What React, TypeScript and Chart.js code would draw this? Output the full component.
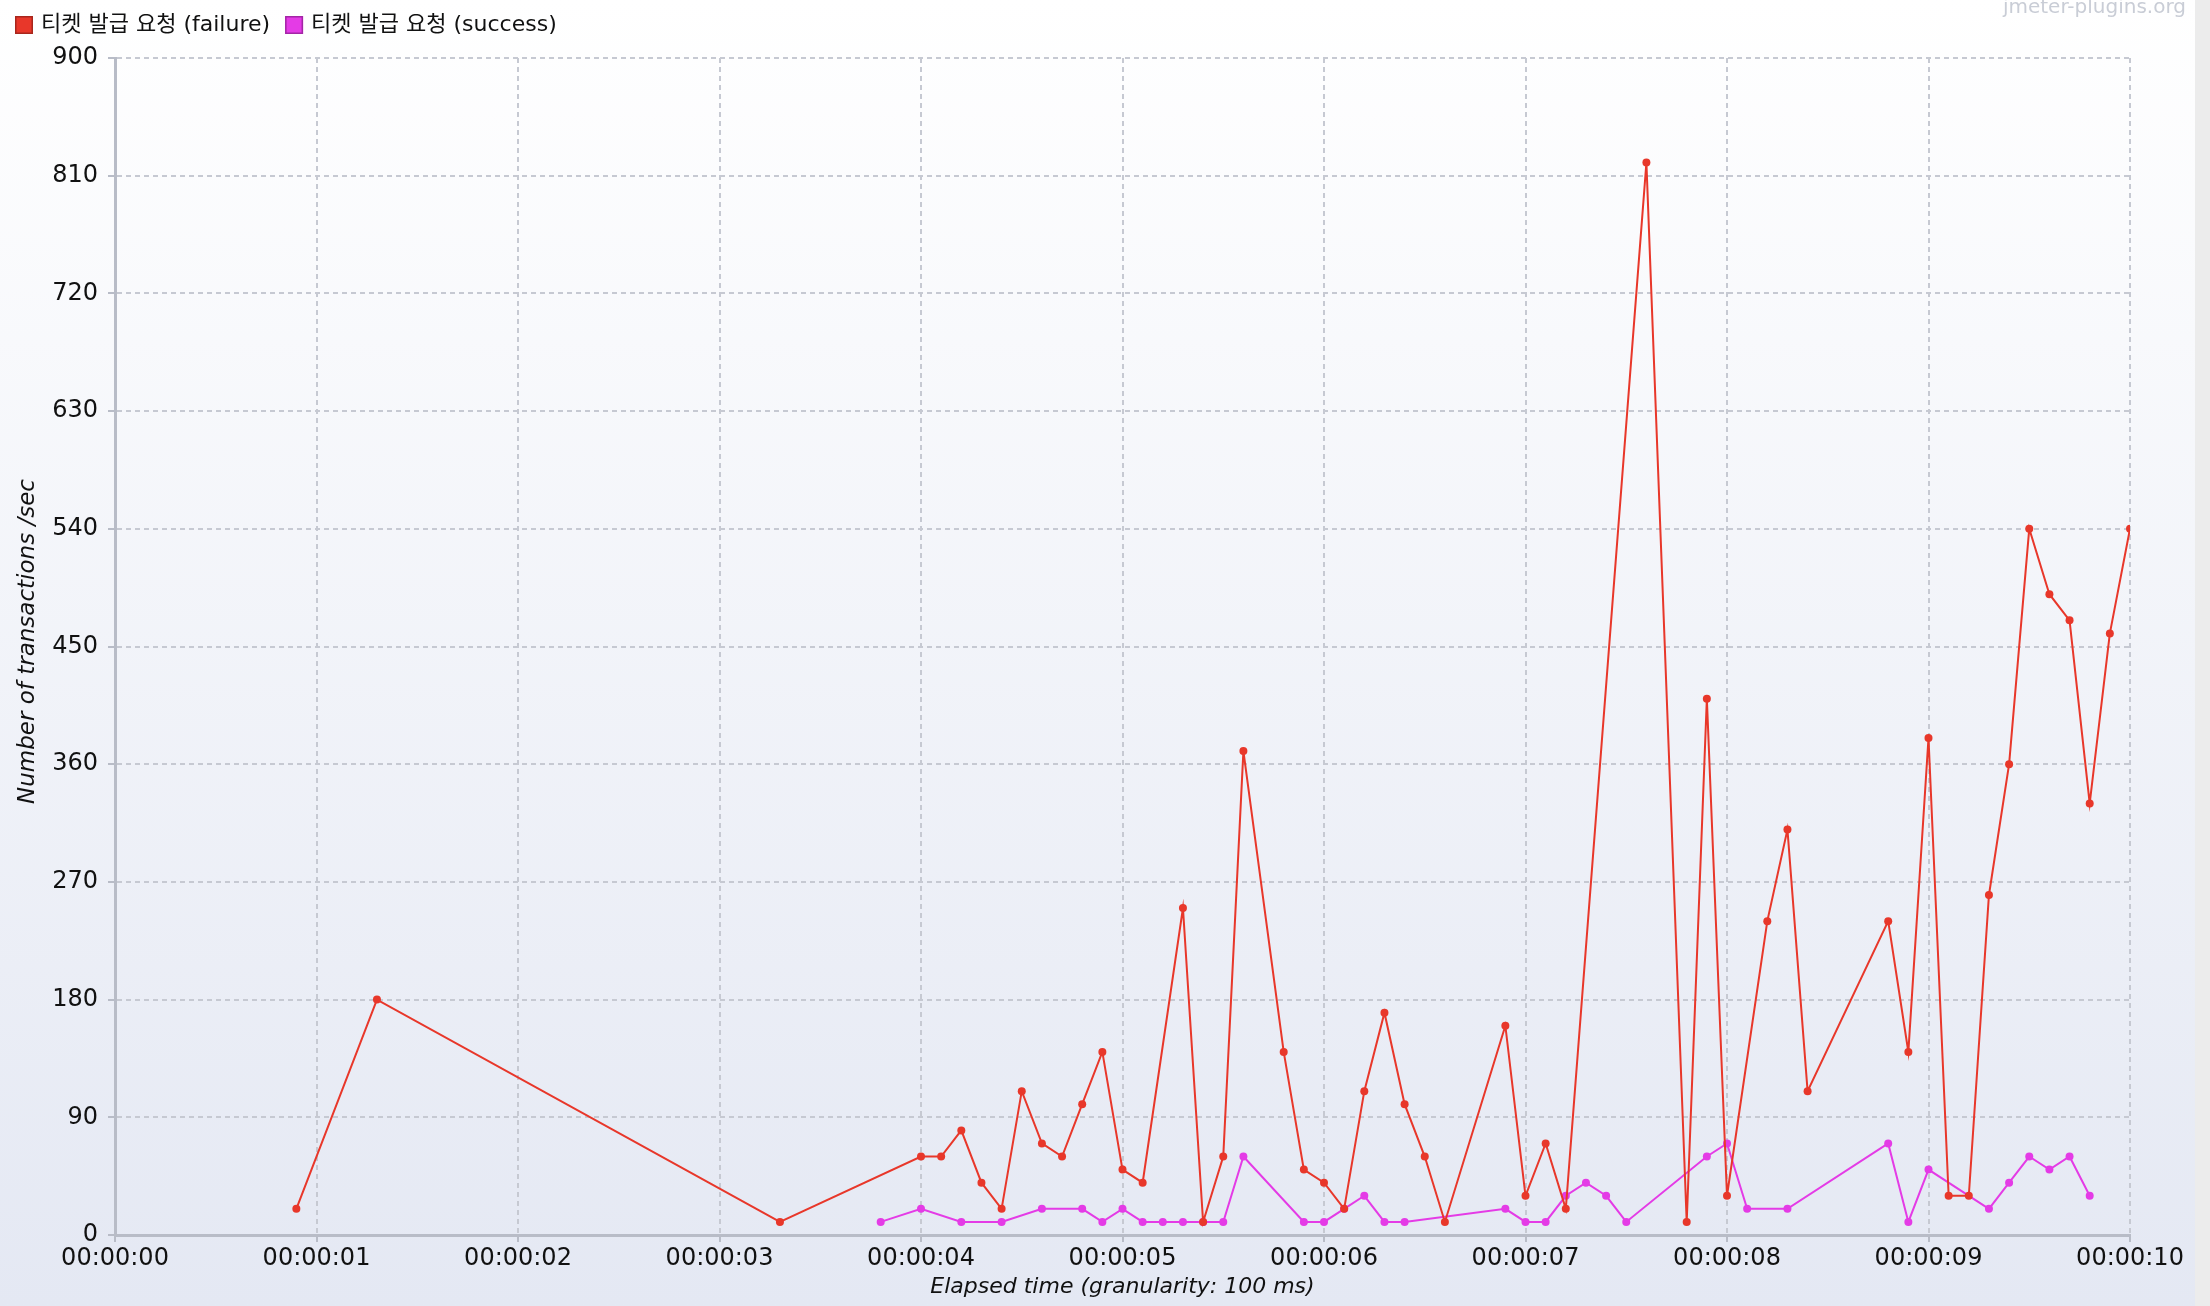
import React, { useEffect, useRef } from "react";
import { Chart, registerables } from "chart.js";

Chart.register(...registerables);

// ---- data (time in seconds, value in transactions/sec) ----
const failureTimes = [
  0.9, 1.3, 3.3, 4.0, 4.1, 4.2, 4.3, 4.4, 4.5, 4.6, 4.7, 4.8, 4.9, 5.0, 5.1,
  5.3, 5.4, 5.5, 5.6, 5.8, 5.9, 6.0, 6.1, 6.2, 6.3, 6.4, 6.5, 6.6, 6.9, 7.0,
  7.1, 7.2, 7.6, 7.8, 7.9, 8.0, 8.2, 8.3, 8.4, 8.8, 8.9, 9.0, 9.1, 9.2, 9.3,
  9.4, 9.5, 9.6, 9.7, 9.8, 9.9, 10.0,
];
const failureValues = [
  20, 180, 10, 60, 60, 80, 40, 20, 110, 70, 60, 100, 140, 50, 40,
  250, 10, 60, 370, 140, 50, 40, 20, 110, 170, 100, 60, 10, 160, 30,
  70, 20, 820, 10, 410, 30, 240, 310, 110, 240, 140, 380, 30, 30, 260,
  360, 540, 490, 470, 330, 460, 540,
];
const successTimes = [
  3.8, 4.0, 4.2, 4.4, 4.6, 4.8, 4.9, 5.0, 5.1, 5.2, 5.3, 5.4, 5.5, 5.6,
  5.9, 6.0, 6.1, 6.2, 6.3, 6.4, 6.9, 7.0, 7.1, 7.2, 7.3, 7.4, 7.5,
  7.9, 8.0, 8.1, 8.3, 8.8, 8.9, 9.0, 9.3, 9.4, 9.5, 9.6, 9.7, 9.8,
];
const successValues = [
  10, 20, 10, 10, 20, 20, 10, 20, 10, 10, 10, 10, 10, 60,
  10, 10, 20, 30, 10, 10, 20, 10, 10, 30, 40, 30, 10,
  60, 70, 20, 20, 70, 10, 50, 20, 40, 60, 50, 60, 30,
];

const seriesLabels = ["티켓 발급 요청 (failure)", "티켓 발급 요청 (success)"];
const seriesColors = ["#e8372a", "#e43be6"];
const seriesBorders = ["#a8261c", "#a325a6"];

const xMin = 0;
const xMax = 10;
const xStep = 1;
const yMin = 0;
const yMax = 900;
const yStep = 90;

const xTitle = "Elapsed time (granularity: 100 ms)";
const yTitle = "Number of transactions /sec";
const watermark = "jmeter-plugins.org";

const FONT = "'DejaVu Sans', 'Noto Sans CJK KR', sans-serif";

function fmtTime(s: number): string {
  const sec = Math.round(s);
  const hh = Math.floor(sec / 3600);
  const mm = Math.floor(sec / 60) % 60;
  const ss = sec % 60;
  return [hh, mm, ss].map((v) => String(v).padStart(2, "0")).join(":");
}

const decorPlugin = {
  id: "decor",
  beforeDraw(chart: any) {
    const { ctx, width, height } = chart;
    ctx.save();
    const g = ctx.createLinearGradient(0, 0, 0, height);
    g.addColorStop(0, "#ffffff");
    g.addColorStop(1, "#e4e8f3");
    ctx.fillStyle = g;
    ctx.fillRect(0, 0, width, height);
    ctx.fillStyle = "#ececec";
    ctx.fillRect(2195, 0, width - 2195, height);
    ctx.restore();
  },
  afterDraw(chart: any) {
    const { ctx, chartArea } = chart;
    ctx.save();
    // legend
    ctx.font = `22px ${FONT}`;
    ctx.textBaseline = "middle";
    ctx.textAlign = "left";
    let x = 15;
    seriesLabels.forEach((label, i) => {
      ctx.fillStyle = seriesColors[i];
      ctx.fillRect(x, 16, 18, 18);
      ctx.strokeStyle = seriesBorders[i];
      ctx.lineWidth = 1.5;
      ctx.strokeRect(x + 0.75, 16.75, 16.5, 16.5);
      ctx.fillStyle = "#111111";
      ctx.fillText(label, x + 26, 25);
      x += 26 + ctx.measureText(label).width + 15;
    });
    // watermark
    ctx.font = `20px ${FONT}`;
    ctx.fillStyle = "#c9cdd6";
    ctx.textAlign = "right";
    ctx.fillText(watermark, 2186, 8);
    // axis titles
    ctx.fillStyle = "#111111";
    ctx.font = `italic 22px ${FONT}`;
    ctx.textAlign = "center";
    ctx.textBaseline = "middle";
    ctx.fillText(xTitle, (chartArea.left + chartArea.right) / 2, 1287);
    ctx.font = `italic 23px ${FONT}`;
    ctx.translate(28, (chartArea.top + chartArea.bottom) / 2 - 5);
    ctx.rotate(-Math.PI / 2);
    ctx.fillText(yTitle, 0, 0);
    ctx.restore();
  },
};

export default function App() {
  const canvasRef = useRef<HTMLCanvasElement | null>(null);

  useEffect(() => {
    document.body.style.margin = "0";
    const canvas = canvasRef.current;
    if (!canvas) return;
    const failureData = failureTimes.map((t, i) => ({ x: t, y: failureValues[i] }));
    const successData = successTimes.map((t, i) => ({ x: t, y: successValues[i] }));
    const mkDs = (label: string, data: any[], color: string) => ({
      label,
      data,
      borderColor: color,
      backgroundColor: color,
      borderWidth: 2,
      pointRadius: 4,
      pointHoverRadius: 4,
      pointBorderWidth: 0,
      pointBackgroundColor: color,
      tension: 0,
      fill: false,
    });
    const gridColor = "#c6c9d2";
    const axisColor = "#b8bcc7";
    const chart = new Chart(canvas, {
      type: "line",
      data: {
        datasets: [
          mkDs(seriesLabels[0], failureData, seriesColors[0]),
          mkDs(seriesLabels[1], successData, seriesColors[1]),
        ],
      },
      options: {
        animation: false,
        responsive: false,
        devicePixelRatio: 1,
        events: [],
        layout: { padding: { left: 0, top: 58, right: 80, bottom: 0 } },
        plugins: {
          legend: { display: false },
          tooltip: { enabled: false },
          title: { display: false },
        },
        scales: {
          x: {
            type: "linear",
            min: xMin,
            max: xMax,
            afterFit: (s: any) => {
              s.height = 71;
            },
            ticks: {
              stepSize: xStep,
              callback: (v: any) => fmtTime(Number(v)),
              font: { family: FONT, size: 24 },
              color: "#111111",
              padding: 2,
              maxRotation: 0,
              autoSkip: false,
            },
            grid: {
              color: gridColor,
              lineWidth: 2,
              drawTicks: true,
              tickLength: 7,
              tickColor: axisColor,
              tickWidth: 2,
            },
            border: { display: true, color: axisColor, width: 3, dash: [5, 4] },
          },
          y: {
            type: "linear",
            min: yMin,
            max: yMax,
            afterFit: (s: any) => {
              s.width = 115;
            },
            ticks: {
              stepSize: yStep,
              font: { family: FONT, size: 24 },
              color: "#111111",
              padding: 10,
              autoSkip: false,
            },
            grid: {
              color: gridColor,
              lineWidth: 2,
              drawTicks: true,
              tickLength: 7,
              tickColor: axisColor,
              tickWidth: 2,
            },
            border: { display: true, color: axisColor, width: 3, dash: [5, 4] },
          },
        },
      },
      plugins: [decorPlugin],
    } as any);
    return () => {
      chart.destroy();
    };
  }, []);

  return (
    <div style={{ position: "fixed", left: 0, top: 0, width: 2210, height: 1306 }}>
      <canvas ref={canvasRef} width={2210} height={1306} style={{ display: "block" }} />
    </div>
  );
}
